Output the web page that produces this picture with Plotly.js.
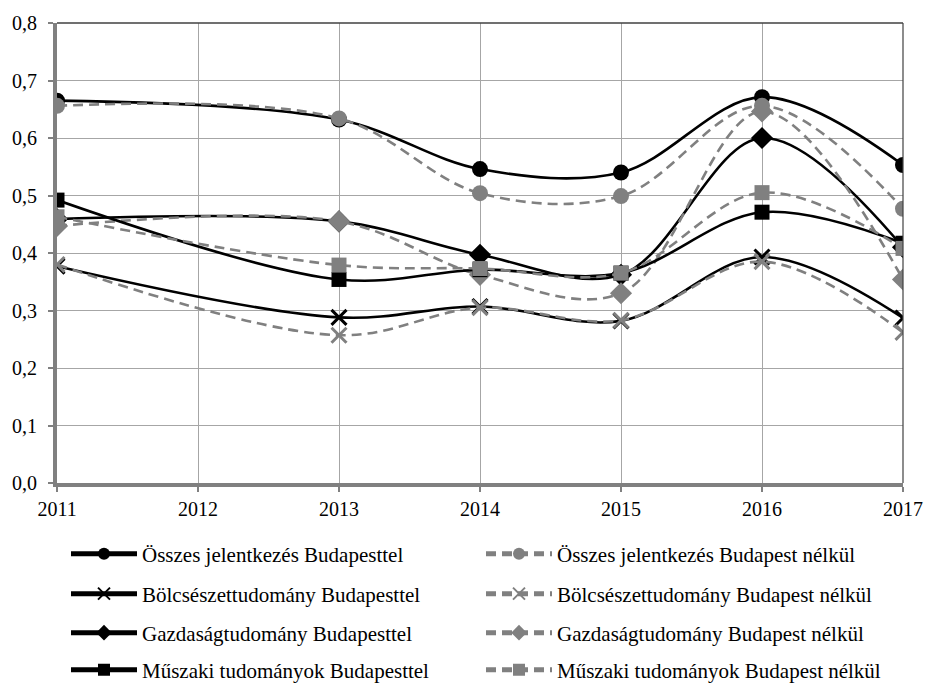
<!DOCTYPE html>
<html>
<head>
<meta charset="utf-8">
<script src="https://cdn.plot.ly/plotly-3.0.1.min.js"></script>
<style>
  html, body { margin: 0; padding: 0; background: #fff; }
  #chart { width: 925px; height: 684px; }
</style>
</head>
<body>
<div id="chart"></div>
<script>
// Tick labels of the x axis (2012 has no data)
const tickYears = [2011, 2012, 2013, 2014, 2015, 2016, 2017];
const tickLabels = ["2011", "2012", "2013", "2014", "2015", "2016", "2017"];
// Years with data
const dataYears = [2011, 2013, 2014, 2015, 2016, 2017];

// Series values
const osszesBp   = [0.665, 0.632, 0.546, 0.540, 0.671, 0.553];
const osszesNo   = [0.656, 0.634, 0.504, 0.499, 0.656, 0.477];
const bolcsBp    = [0.377, 0.288, 0.307, 0.282, 0.393, 0.287];
const bolcsNo    = [0.380, 0.257, 0.305, 0.283, 0.385, 0.262];
const gazdBp     = [0.459, 0.455, 0.397, 0.362, 0.600, 0.410];
const gazdNo     = [0.447, 0.455, 0.362, 0.330, 0.646, 0.354];
const muszBp     = [0.492, 0.354, 0.371, 0.365, 0.471, 0.417];
const muszNo     = [0.463, 0.379, 0.373, 0.365, 0.505, 0.408];

const seriesNames = [
  "Összes jelentkezés Budapesttel",
  "Összes jelentkezés Budapest nélkül",
  "Bölcsészettudomány Budapesttel",
  "Bölcsészettudomány Budapest nélkül",
  "Gazdaságtudomány Budapesttel",
  "Gazdaságtudomány Budapest nélkül",
  "Műszaki tudományok Budapesttel",
  "Műszaki tudományok Budapest nélkül"
];
const seriesValues = [osszesBp, osszesNo, bolcsBp, bolcsNo, gazdBp, gazdNo, muszBp, muszNo];
const symbols = ["circle", "circle", "x-thin", "x-thin", "diamond", "diamond", "square", "square"];
const sizes = [16, 16, 15, 15, 17, 17, 15, 15];

const BLACK = "#000000";
const GRAY = "#808080";
const legendIds = ["legend", "legend", "legend2", "legend2", "legend3", "legend3", "legend4", "legend4"];

const traces = seriesValues.map((vals, i) => {
  const isGray = i % 2 === 1;
  const col = isGray ? GRAY : BLACK;
  const isX = symbols[i] === "x-thin";
  return {
    type: "scatter",
    mode: "lines+markers",
    name: seriesNames[i],
    x: dataYears,
    y: vals,
    legend: legendIds[i],
    line: { color: col, width: 2.6, shape: "spline", smoothing: 1, dash: isGray ? "10px,6px" : "solid" },
    marker: {
      symbol: symbols[i],
      size: sizes[i],
      color: col,
      line: { color: col, width: isX ? 3 : 0 }
    },
    hoverinfo: "x+y+name"
  };
});

const FONT = "Liberation Serif, Times New Roman, serif";
function legendRow(ypix) {
  return {
    orientation: "h",
    xref: "container",
    yref: "container",
    x: 66 / 925,
    xanchor: "left",
    y: 1 - ypix / 684,
    yanchor: "middle",
    entrywidth: 334,
    entrywidthmode: "pixels",
    itemwidth: 66,
    itemsizing: "constant",
    bgcolor: "rgba(0,0,0,0)",
    font: { family: FONT, size: 21, color: "#000" },
    traceorder: "normal"
  };
}

const layout = {
  width: 925,
  height: 684,
  margin: { l: 57, r: 22, t: 23, b: 201 },
  paper_bgcolor: "#ffffff",
  plot_bgcolor: "#ffffff",
  separators: ", ",
  showlegend: true,
  font: { family: FONT, size: 20, color: "#000" },
  xaxis: {
    type: "linear",
    range: [2011, 2017],
    tickvals: tickYears,
    ticktext: tickLabels,
    showgrid: true,
    gridcolor: "#a6a6a6",
    gridwidth: 1,
    zeroline: false,
    showline: true,
    linecolor: GRAY,
    linewidth: 4,
    ticks: "outside",
    ticklen: 5,
    tickwidth: 2,
    tickcolor: GRAY,
    tickfont: { family: FONT, size: 20, color: "#000" },
    fixedrange: true
  },
  yaxis: {
    range: [0, 0.8],
    dtick: 0.1,
    tick0: 0,
    tickformat: ".1f",
    showgrid: true,
    gridcolor: "#a6a6a6",
    gridwidth: 1,
    zeroline: false,
    showline: true,
    linecolor: GRAY,
    linewidth: 4,
    ticks: "outside",
    ticklen: 5,
    tickwidth: 2,
    tickcolor: GRAY,
    ticklabelstandoff: 7,
    tickfont: { family: FONT, size: 20, color: "#000" },
    fixedrange: true
  },
  shapes: [
    { type: "line", xref: "paper", yref: "paper", x0: 0, x1: 1, y0: 1, y1: 1, line: { color: "#404040", width: 1.5 } },
    { type: "line", xref: "paper", yref: "paper", x0: 1, x1: 1, y0: 0, y1: 1, line: { color: "#404040", width: 1.2 } }
  ],
  legend: legendRow(554),
  legend2: legendRow(594),
  legend3: legendRow(633),
  legend4: legendRow(670)
};

Plotly.newPlot("chart", traces, layout, { displayModeBar: false, staticPlot: true });
</script>
</body>
</html>
